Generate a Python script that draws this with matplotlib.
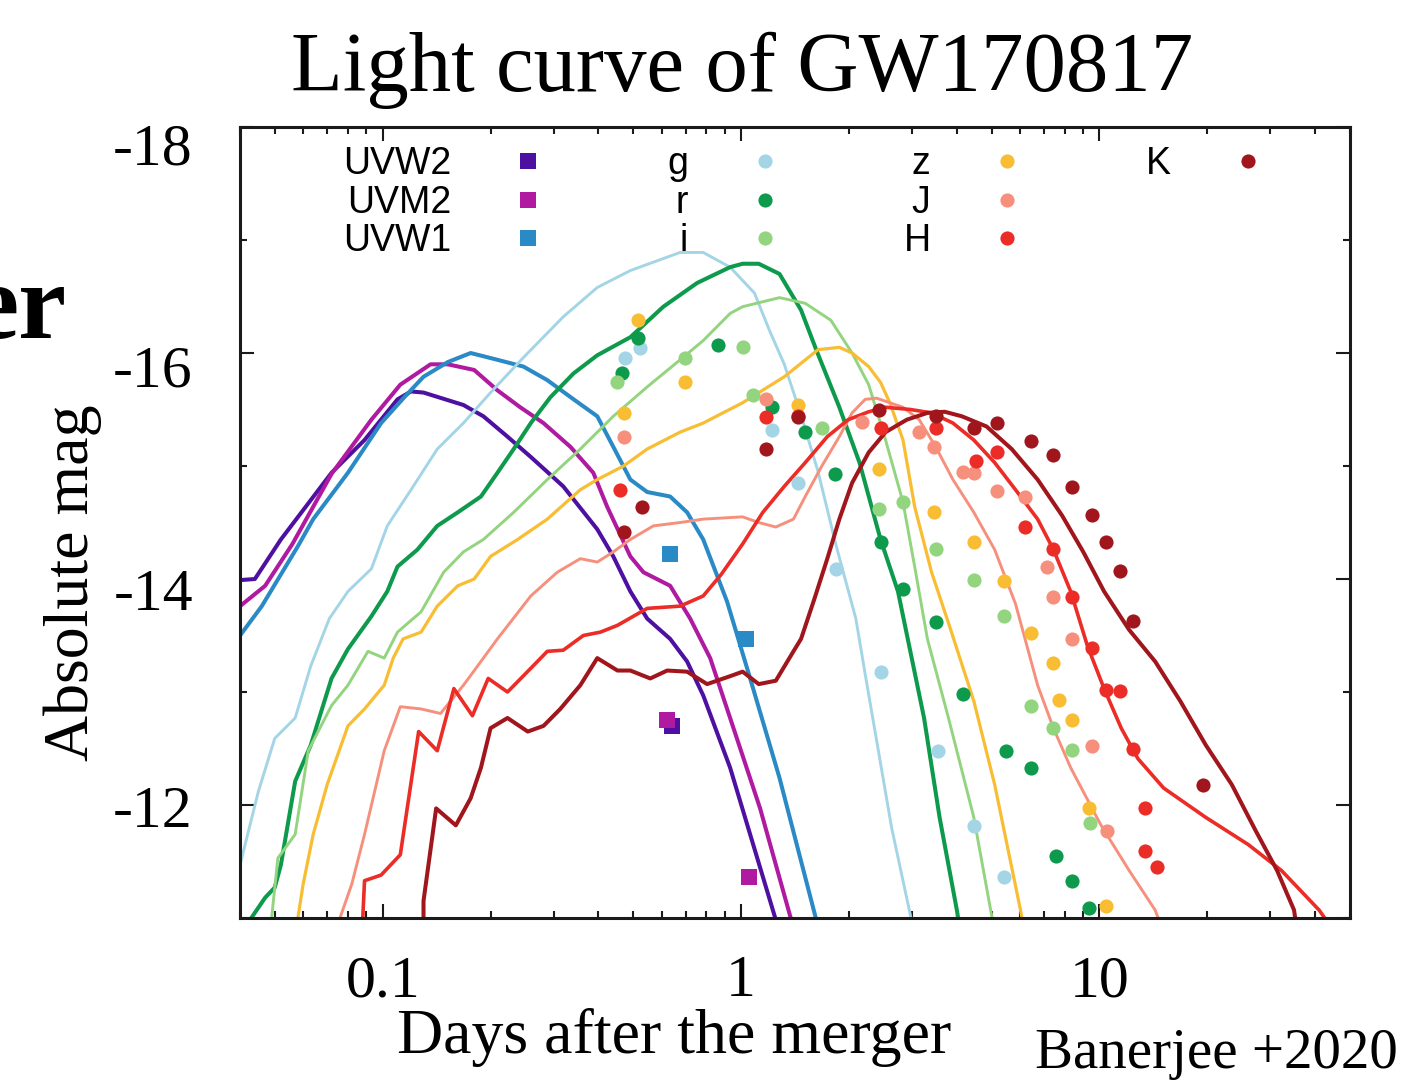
import matplotlib
matplotlib.use("Agg")
import matplotlib.pyplot as plt
from matplotlib.lines import Line2D
from matplotlib.ticker import FixedLocator, MultipleLocator, NullFormatter, LogLocator
from matplotlib.transforms import ScaledTranslation

plt.rcParams['axes.unicode_minus'] = False

# ---- model light curves (days after merger, absolute mag) ----
uvw2_t = [0.040, 0.044, 0.052, 0.072, 0.089, 0.110, 0.120, 0.130, 0.168, 0.191, 0.223, 0.259,
          0.319, 0.397, 0.440, 0.491, 0.547, 0.634, 0.707, 0.784, 0.932, 1.24, 1.28]
uvw2_m = [-13.99, -14.00, -14.35, -14.94, -15.23, -15.59, -15.66, -15.65, -15.54, -15.44, -15.26, -15.08,
          -14.82, -14.44, -14.20, -13.89, -13.65, -13.47, -13.27, -12.97, -12.33, -11.02, -10.85]

uvm2_t = [0.040, 0.047, 0.056, 0.072, 0.093, 0.112, 0.136, 0.152, 0.180, 0.209, 0.242, 0.281,
          0.334, 0.387, 0.423, 0.491, 0.534, 0.634, 0.721, 0.820, 0.932, 1.13, 1.37, 1.42]
uvm2_m = [-13.76, -13.94, -14.31, -14.93, -15.41, -15.72, -15.90, -15.90, -15.85, -15.67, -15.52, -15.38,
          -15.17, -14.94, -14.64, -14.20, -14.06, -13.94, -13.65, -13.30, -12.77, -11.97, -11.02, -10.85]

uvw1_t = [0.040, 0.046, 0.058, 0.064, 0.080, 0.099, 0.115, 0.130, 0.152, 0.176, 0.209, 0.247, 0.288,
          0.341, 0.397, 0.440, 0.491, 0.547, 0.634, 0.707, 0.784, 0.914, 1.06, 1.28, 1.61, 1.66]
uvw1_m = [-13.50, -13.76, -14.29, -14.53, -14.94, -15.38, -15.61, -15.79, -15.92, -16.00, -15.94, -15.88, -15.76,
          -15.59, -15.44, -15.17, -14.88, -14.77, -14.73, -14.59, -14.35, -13.80, -13.12, -12.24, -11.02, -10.85]

g_t = [0.040, 0.045, 0.050, 0.057, 0.063, 0.071, 0.080, 0.093, 0.103, 0.120, 0.142, 0.168, 0.200, 0.247,
       0.319, 0.397, 0.491, 0.676, 0.784, 0.932, 1.09, 1.20, 1.32, 1.47, 1.64, 1.84, 2.09, 2.23, 2.41,
       2.63, 2.97, 3.03]
g_m = [-11.47, -12.12, -12.59, -12.77, -13.23, -13.65, -13.89, -14.09, -14.47, -14.79, -15.15, -15.38, -15.65,
       -15.96, -16.32, -16.58, -16.73, -16.89, -16.89, -16.76, -16.53, -16.20, -15.90, -15.45, -14.95, -14.30,
       -13.65, -13.12, -12.50, -11.80, -11.02, -10.87]

r_t = [0.043, 0.047, 0.050, 0.052, 0.057, 0.063, 0.072, 0.080, 0.093, 0.103, 0.110, 0.125, 0.142, 0.162,
       0.188, 0.209, 0.232, 0.259, 0.294, 0.341, 0.397, 0.491, 0.607, 0.754, 0.932, 1.01, 1.12, 1.28, 1.47,
       1.62, 1.88, 2.14, 2.45, 2.74, 3.24, 3.58, 4.00, 4.07]
r_m = [-11.00, -11.18, -11.27, -11.47, -12.21, -12.53, -13.12, -13.38, -13.67, -13.89, -14.11, -14.26, -14.47,
       -14.59, -14.73, -14.94, -15.15, -15.38, -15.61, -15.82, -15.98, -16.14, -16.41, -16.62, -16.76, -16.79,
       -16.79, -16.70, -16.38, -16.03, -15.52, -15.03, -14.35, -13.89, -12.77, -11.89, -11.07, -10.92]

i_t = [0.049, 0.051, 0.057, 0.062, 0.072, 0.080, 0.091, 0.101, 0.110, 0.128, 0.148, 0.168, 0.191, 0.232,
       0.288, 0.356, 0.440, 0.547, 0.676, 0.784, 0.932, 1.01, 1.28, 1.51, 1.78, 2.04, 2.27, 2.53, 2.83, 3.07,
       3.31, 3.79, 4.46, 4.97, 5.07]
i_m = [-11.00, -11.53, -11.74, -12.48, -12.88, -13.06, -13.36, -13.30, -13.53, -13.71, -14.06, -14.24, -14.35,
       -14.59, -14.88, -15.15, -15.44, -15.70, -15.94, -16.11, -16.35, -16.41, -16.49, -16.44, -16.29, -16.00,
       -15.72, -15.23, -14.68, -14.06, -13.47, -12.77, -11.89, -11.07, -10.92]

z_t = [0.058, 0.060, 0.064, 0.070, 0.080, 0.089, 0.101, 0.107, 0.114, 0.128, 0.142, 0.162, 0.180, 0.200,
       0.238, 0.288, 0.356, 0.397, 0.470, 0.547, 0.676, 0.784, 1.01, 1.32, 1.64, 1.88, 2.04, 2.27, 2.45, 2.60,
       2.83, 3.05, 3.40, 3.80, 4.46, 5.10, 6.02, 6.14]
z_m = [-11.00, -11.30, -11.74, -12.18, -12.70, -12.85, -13.06, -13.30, -13.47, -13.53, -13.76, -13.94, -14.00,
       -14.20, -14.35, -14.53, -14.79, -14.88, -15.00, -15.15, -15.30, -15.38, -15.56, -15.79, -16.03, -16.05,
       -16.00, -15.88, -15.74, -15.56, -15.23, -14.64, -14.06, -13.60, -12.92, -12.18, -11.07, -10.92]

j_t = [0.076, 0.082, 0.089, 0.101, 0.112, 0.128, 0.145, 0.168, 0.184, 0.209, 0.259, 0.307, 0.356, 0.397,
       0.440, 0.491, 0.569, 0.676, 0.784, 1.01, 1.12, 1.25, 1.40, 1.51, 1.68, 1.88, 2.04, 2.22, 2.39, 2.60,
       2.83, 3.14, 3.49, 3.90, 4.46, 5.10, 5.83, 6.72, 7.44, 8.31, 10.1, 12.1, 14.3, 14.9]
j_m = [-11.00, -11.30, -11.74, -12.48, -12.87, -12.85, -12.81, -13.06, -13.23, -13.47, -13.85, -14.06, -14.18,
       -14.15, -14.24, -14.35, -14.47, -14.50, -14.53, -14.55, -14.50, -14.46, -14.53, -14.73, -15.00, -15.26,
       -15.47, -15.59, -15.60, -15.56, -15.52, -15.41, -15.17, -14.88, -14.59, -14.26, -13.78, -13.06, -12.68,
       -12.33, -11.82, -11.42, -11.07, -10.92]

h_t = [0.088, 0.089, 0.099, 0.112, 0.126, 0.142, 0.158, 0.178, 0.197, 0.223, 0.259, 0.288, 0.319, 0.363,
       0.405, 0.452, 0.547, 0.676, 0.784, 0.880, 1.01, 1.15, 1.32, 1.51, 1.74, 1.99, 2.27, 2.53, 2.97, 3.40,
       3.90, 4.46, 5.10, 5.83, 6.72, 7.44, 8.31, 9.25, 10.3, 11.5, 12.8, 15.1, 19.8, 26.0, 32.2, 41.0, 42.5]
h_m = [-11.00, -11.33, -11.38, -11.56, -12.65, -12.48, -13.03, -12.79, -13.12, -13.00, -13.21, -13.36, -13.37,
       -13.50, -13.53, -13.59, -13.74, -13.76, -13.85, -14.04, -14.31, -14.59, -14.82, -15.03, -15.26, -15.41,
       -15.48, -15.52, -15.50, -15.47, -15.38, -15.23, -15.03, -14.79, -14.53, -14.26, -13.89, -13.41, -13.03,
       -12.68, -12.41, -12.15, -11.89, -11.65, -11.42, -11.07, -11.00]

k_t = [0.130, 0.130, 0.141, 0.160, 0.176, 0.188, 0.200, 0.223, 0.254, 0.281, 0.313, 0.356, 0.397, 0.452,
       0.491, 0.558, 0.622, 0.707, 0.804, 0.932, 1.01, 1.12, 1.25, 1.40, 1.47, 1.60, 1.74, 1.88, 2.04, 2.27,
       2.53, 2.90, 3.31, 3.70, 4.13, 4.84, 5.69, 6.72, 7.87, 9.01, 10.3, 12.1, 14.3, 16.8, 19.8, 23.4, 27.3,
       31.3, 34.9, 35.3]
k_m = [-11.00, -11.15, -11.97, -11.82, -12.06, -12.33, -12.68, -12.77, -12.65, -12.70, -12.85, -13.06, -13.30,
       -13.19, -13.19, -13.12, -13.19, -13.18, -13.07, -13.14, -13.18, -13.07, -13.10, -13.36, -13.47, -13.82,
       -14.18, -14.53, -14.85, -15.12, -15.30, -15.41, -15.47, -15.48, -15.44, -15.35, -15.15, -14.88, -14.56,
       -14.24, -13.89, -13.55, -13.27, -12.92, -12.53, -12.18, -11.77, -11.42, -11.07, -10.96]

# ---- observed photometry ----
uvw2_obs_t = [0.643]
uvw2_obs_m = [-12.70]
uvm2_obs_t = [0.622, 1.05]
uvm2_obs_m = [-12.75, -11.36]
uvw1_obs_t = [0.634, 1.03]
uvw1_obs_m = [-14.22, -13.47]

g_obs_t = [0.475, 0.523, 1.22, 1.44, 1.84, 2.45, 3.54, 4.46, 5.43]
g_obs_m = [-15.96, -16.04, -15.32, -14.85, -14.09, -13.18, -12.48, -11.81, -11.36]

r_obs_t = [0.466, 0.517, 0.863, 1.22, 1.51, 1.83, 2.45, 2.83, 3.49, 4.17, 5.47, 6.42, 7.54, 8.40, 9.32]
r_obs_m = [-15.82, -16.13, -16.07, -15.52, -15.30, -14.93, -14.33, -13.91, -13.62, -12.98, -12.48, -12.33,
           -11.55, -11.33, -11.09]

i_obs_t = [0.452, 0.698, 1.01, 1.08, 1.68, 2.42, 2.83, 3.49, 4.46, 5.40, 6.42, 7.44, 8.40, 9.42]
i_obs_m = [-15.74, -15.96, -16.05, -15.63, -15.34, -14.62, -14.68, -14.27, -13.99, -13.67, -12.88, -12.68,
           -12.49, -11.84]

z_obs_t = [0.517, 0.470, 0.698, 1.44, 2.42, 3.45, 4.46, 5.40, 6.42, 7.44, 7.69, 8.40, 9.36, 10.4]
z_obs_m = [-16.29, -15.47, -15.74, -15.54, -14.97, -14.59, -14.33, -13.98, -13.52, -13.26, -12.93, -12.75,
           -11.97, -11.11]

j_obs_t = [0.470, 1.17, 2.17, 3.14, 3.45, 4.17, 4.46, 5.17, 6.18, 7.16, 7.44, 8.40, 9.50, 10.5]
j_obs_m = [-15.26, -15.59, -15.39, -15.30, -15.17, -14.95, -14.94, -14.78, -14.73, -14.11, -13.84, -13.47,
           -12.52, -11.77]

h_obs_t = [0.460, 1.17, 1.44, 2.45, 3.49, 4.51, 5.17, 6.18, 7.44, 8.40, 9.50, 10.4, 11.4, 12.4, 13.4, 13.4, 14.5]
h_obs_m = [-14.79, -15.43, -15.44, -15.34, -15.34, -15.04, -15.12, -14.46, -14.27, -13.84, -13.39, -13.02,
           -13.01, -12.50, -11.97, -11.59, -11.45]

k_obs_t = [0.470, 0.530, 1.17, 1.44, 2.42, 3.49, 4.46, 5.17, 6.45, 7.44, 8.40, 9.50, 10.4, 11.4, 12.4, 19.4]
k_obs_m = [-14.42, -14.64, -15.15, -15.43, -15.50, -15.44, -15.34, -15.38, -15.22, -15.10, -14.81, -14.57,
           -14.33, -14.07, -13.63, -12.18]

band_names = ['UVW2', 'UVM2', 'UVW1', 'g', 'r', 'i', 'z', 'J', 'H', 'K']
band_colors = ['#4E10A0', '#B01AA0', '#2A8AC6', '#A3D5E6', '#0E9A4C',
               '#93D47F', '#F8BD33', '#F6907C', '#EC2C26', '#A0161C']
band_lw = [2.9, 2.9, 2.9, 2.1, 2.9, 2.1, 2.3, 2.1, 2.6, 2.9]
model_t = [uvw2_t, uvm2_t, uvw1_t, g_t, r_t, i_t, z_t, j_t, h_t, k_t]
model_m = [uvw2_m, uvm2_m, uvw1_m, g_m, r_m, i_m, z_m, j_m, h_m, k_m]
obs_t = [uvw2_obs_t, uvm2_obs_t, uvw1_obs_t, g_obs_t, r_obs_t, i_obs_t, z_obs_t, j_obs_t, h_obs_t, k_obs_t]
obs_m = [uvw2_obs_m, uvm2_obs_m, uvw1_obs_m, g_obs_m, r_obs_m, i_obs_m, z_obs_m, j_obs_m, h_obs_m, k_obs_m]

serif = 'Liberation Serif'

fig = plt.figure(figsize=(14.12, 10.88), dpi=100)
ax = fig.add_axes([0.170, 0.15625, 0.7861, 0.7270])

for t, m, c, lw in zip(model_t, model_m, band_colors, band_lw):
    ax.plot(t, m, color=c, lw=lw, zorder=2, solid_joinstyle='round')

handles = []
for k, (name, t, m, c) in enumerate(zip(band_names, obs_t, obs_m, band_colors)):
    marker, ms = ('s', 11.5) if k < 3 else ('o', 10.2)
    h, = ax.plot(t, m, linestyle='none', marker=marker, ms=ms, color=c, mew=0, zorder=3, label=name)
    handles.append(h)

ax.set_xscale('log')
ax.set_xlim(0.04, 50)
ax.set_ylim(-11, -18)

ax.xaxis.set_major_locator(FixedLocator([0.1, 1, 10]))
ax.set_xticklabels(['0.1', '1', '10'])
ax.xaxis.set_minor_locator(LogLocator(base=10, subs=[2, 3, 4, 5, 6, 7, 8, 9]))
ax.xaxis.set_minor_formatter(NullFormatter())
ax.yaxis.set_major_locator(FixedLocator([-18, -16, -14, -12]))
ax.set_yticklabels(['-18', '-16', '-14', '-12'])
ax.yaxis.set_minor_locator(MultipleLocator(1))

ax.tick_params(which='both', direction='in', top=True, right=True, width=1.5, color='#1a1a1a')
ax.tick_params(which='major', length=10)
ax.tick_params(which='minor', length=5)
ax.tick_params(axis='x', which='major', pad=27, labelsize=43)
ax.tick_params(axis='y', which='major', pad=34, labelsize=43)
for lab in ax.get_xticklabels() + ax.get_yticklabels():
    lab.set_fontfamily(serif)

# y labels sit a little below their ticks
ytick_nudge = [17, 13, 10, 1]
for lab, dy in zip(ax.get_yticklabels(), ytick_nudge):
    lab.set_transform(lab.get_transform() + ScaledTranslation(0, -dy / 100, fig.dpi_scale_trans))

for s in ax.spines.values():
    s.set_linewidth(2.2)
    s.set_color('#1a1a1a')

ax.set_xlabel('Days after the merger', family=serif, fontsize=46)
ax.xaxis.set_label_coords(0.391, -0.114)
ax.set_ylabel('Absolute mag', family=serif, fontsize=46)
ax.yaxis.set_label_coords(-0.124, 0.4235)

# legend: 3 rows, filled column by column, labels to the left of the keys
blank = Line2D([], [], linestyle='none')
ax.legend(handles + [blank, blank], band_names + ['', ''], loc='upper left',
          bbox_to_anchor=(0.0928, 0.9754), ncol=4, markerfirst=False, frameon=False,
          prop={'family': 'Liberation Sans', 'size': 27}, handlelength=1.0,
          handletextpad=1.55, columnspacing=3.2, labelspacing=0.06, borderpad=0,
          borderaxespad=0, numpoints=1)

fig.text(742 / 1412, 1 - 91 / 1088, 'Light curve of GW170817', ha='center', va='baseline',
         family=serif, fontsize=61)
fig.text(1035 / 1412, 1 - 1068 / 1088, 'Banerjee +2020', ha='left', va='baseline',
         family=serif, fontsize=41)
fig.text(66 / 1412, 1 - 338 / 1088, 'er', ha='right', va='baseline', family=serif,
         fontsize=78, fontweight='bold')

fig.savefig('out.png', dpi=100)
